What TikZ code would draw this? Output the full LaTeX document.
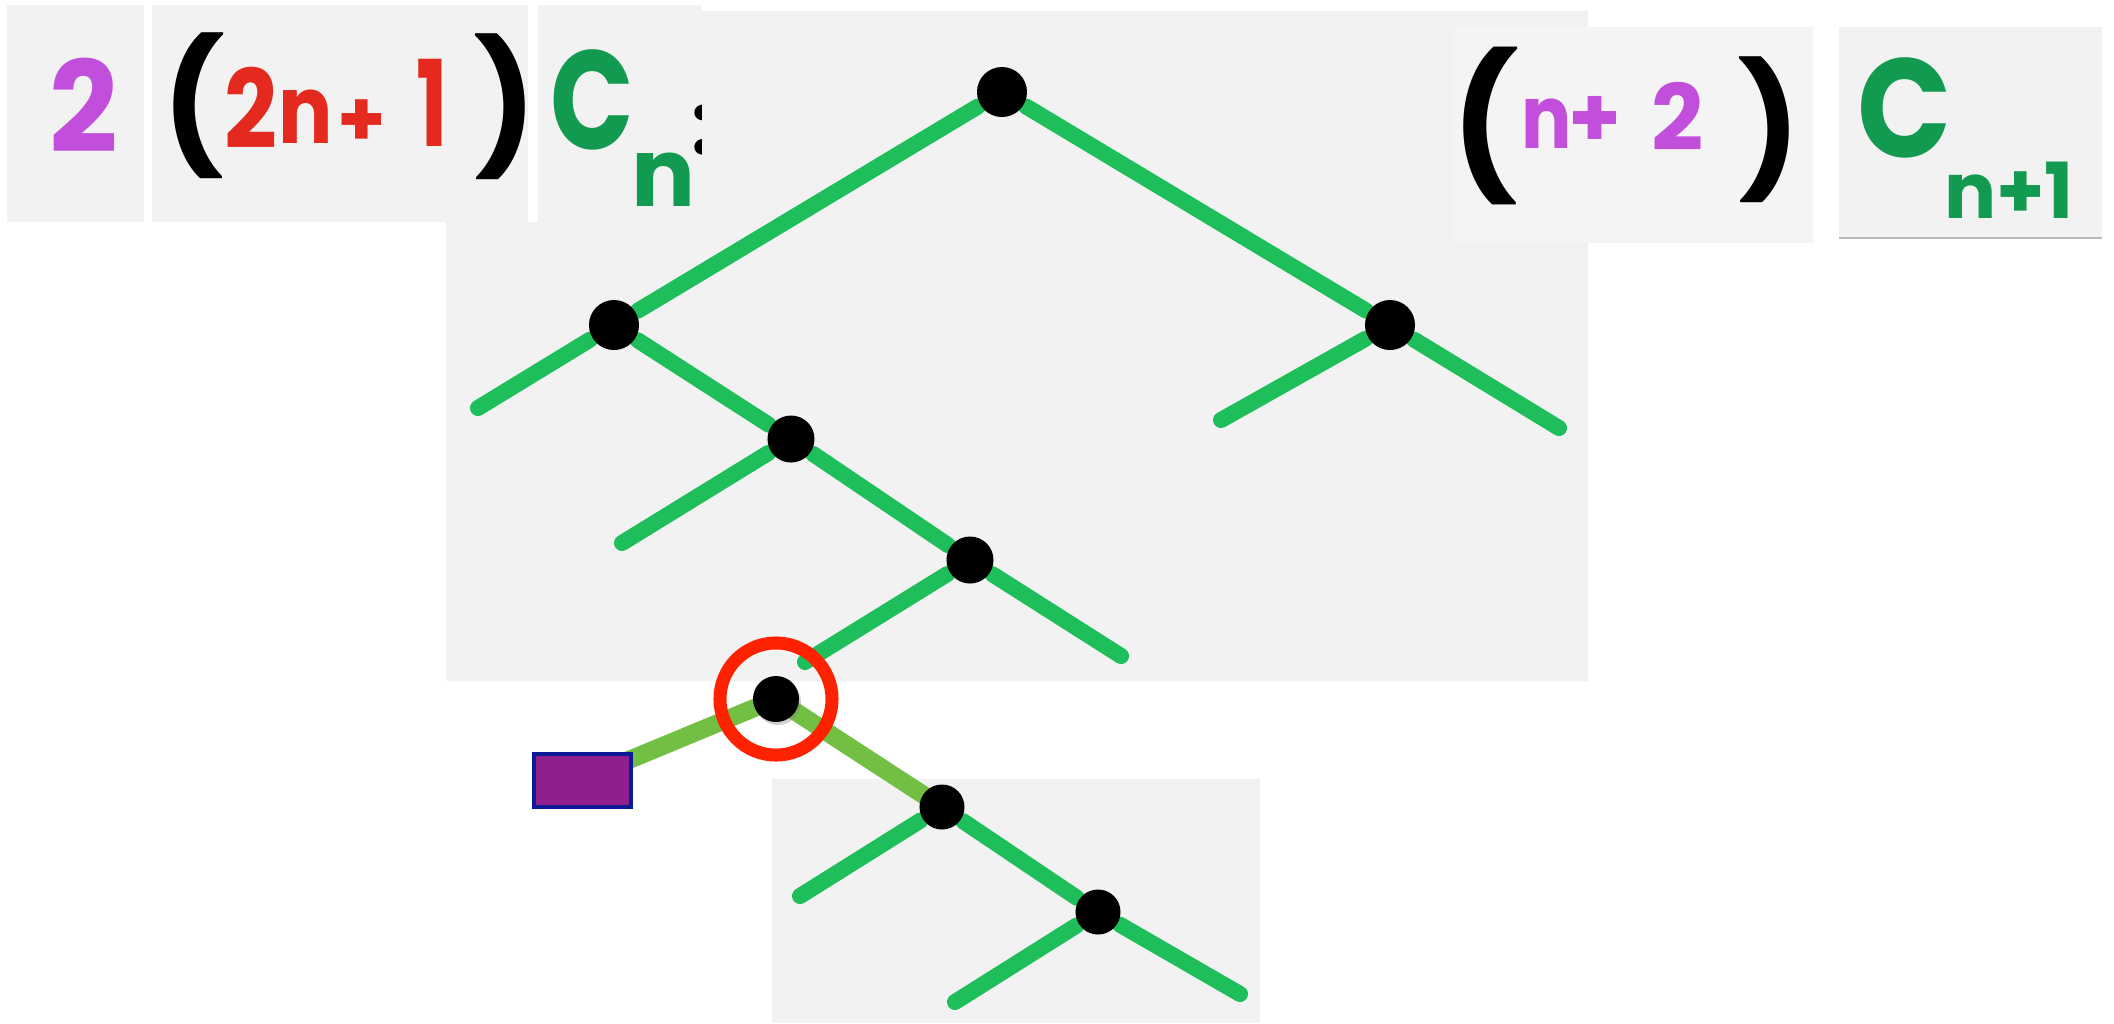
\documentclass[tikz,border=0pt]{standalone}
\usepackage{fontspec}
\newfontfamily\hand{Poppins}
\usetikzlibrary{shadows,calc}
\pgfdeclarelayer{panels}
\pgfdeclarelayer{edges}
\pgfsetlayers{panels,edges,main}
\definecolor{panelgray}{HTML}{F2F2F2}
\definecolor{panelgrayb}{HTML}{F4F4F4}
\definecolor{marker}{HTML}{1EBE5A}
\definecolor{lightleaf}{HTML}{72BF44}
\definecolor{ringred}{HTML}{FF2200}
\definecolor{violetink}{HTML}{C24FDB}
\definecolor{redink}{HTML}{E42A1F}
\definecolor{greenink}{HTML}{129A50}
\definecolor{boxfill}{HTML}{8E1F8D}
\definecolor{boxedge}{HTML}{0A1A96}
\newcommand\gsz[1]{\fontsize{#1pt}{#1pt}\selectfont}
\newcommand\narrow[2]{\scalebox{#1}[1]{#2}}

\begin{document}
\begin{tikzpicture}[x=0.01cm,y=-0.01cm,
  dot/.style={circle,fill=black,inner sep=0,minimum size=0.5cm,outer sep=0.03cm},
  smalldot/.style={dot,minimum size=0.45cm},
  branch/.style={draw=marker,line width=0.16cm,line cap=round},
  newbranch/.style={draw=lightleaf,line width=0.18cm},
  glyph/.style={inner sep=0,outer sep=0,font=\hand\bfseries\gsz{#1}},
  panel/.style={fill=panelgray,draw=none}]

\useasboundingbox (0,0) rectangle (2114,1023);

% paper panels
\begin{pgfonlayer}{panels}
  \fill[white] (0,0) rectangle (2114,1023);
  \fill[panel] (446,11) rectangle (1588,681);
  \fill[panel] (772,779) rectangle (1260,1023);
  \fill[white] (528,5) rectangle (538,222);
  \fill[panel] (7,5) rectangle (144,222);
  \fill[panel] (152,5) rectangle (528,222);
  \fill[panel] (538,5) rectangle (701,222);
  \fill[panelgrayb] (1453,27) rectangle (1813,243);
  \fill[panel] (1839,27) rectangle (2102,237);
  \draw[gray!55,line width=0.02cm] (1839,238) -- (2102,238);
\end{pgfonlayer}

% left side of the identity
\node[glyph=36,text=violetink] (twoa) at (84,105) {\narrow{0.95}{2}};
\node[glyph=37,text=black] (lpa) at (194,106) {(};
\node[glyph=31,text=redink] (twob) at (251,108) {\narrow{0.85}{2}};
\node[glyph=27,text=redink] (na) at (306,117) {\narrow{0.85}{n}};
\node[glyph=22,text=redink] (plusa) at (362,123) {+};
\node[glyph=34,text=redink] (onea) at (432,103) {\narrow{0.7}{1}};
\node[glyph=37,text=black] (rpa) at (506,107) {)};
\node[glyph=40,text=greenink] (ca) at (592,100) {\narrow{0.78}{C}};
\node[glyph=27,text=greenink] (subn) at (663,180) {n};
\begin{scope}
  \clip (538,5) rectangle (701,222);
  \node[glyph=24,text=black] (colon) at (703,130) {:};
\end{scope}

% right side of the identity
\node[glyph=40,text=black] (lpb) at (1485,126) {(};
\node[glyph=25,text=violetink] (nb) at (1547,124) {\narrow{0.85}{n}};
\node[glyph=24,text=violetink] (plusb) at (1595,122) {+};
\node[glyph=26,text=violetink] (twoc) at (1678,116) {2};
\node[glyph=37,text=black] (rpb) at (1770,130) {)};
\node[glyph=40,text=greenink] (cb) at (1905,108) {\narrow{0.88}{C}};
\node[glyph=22,text=greenink] (subnb) at (2009,190) {n+1};

% upper tree
\node[dot] (root) at (1002,92) {};
\node[dot] (L1) at (614,325) {};
\node[dot] (R1) at (1390,325) {};
\node[dot,minimum size=0.47cm] (L2) at (791,439) {};
\node[dot,minimum size=0.47cm] (L3) at (970,560) {};
\coordinate (L1a) at (478,408);
\coordinate (R1a) at (1221,420);
\coordinate (R1b) at (1559,428);
\coordinate (L2a) at (622,543);
\coordinate (L3a) at (805,662);
\coordinate (L3b) at (1121,656);

% highlighted node, the box leaf and the lower tree
\node[dot,minimum size=0.46cm,drop shadow={shadow xshift=0.02cm,shadow yshift=-0.03cm,opacity=0.35}] (cn) at (776,699) {};
\node[circle,draw=ringred,line width=0.13cm,minimum size=1.12cm,inner sep=0] (ring) at (cn) {};
\node[fill=boxfill,draw=boxedge,line width=0.04cm,minimum width=0.97cm,minimum height=0.53cm,inner sep=0] (leafbox) at (582.5,780.5) {};
\node[smalldot] (N1) at (942,807) {};
\node[smalldot] (N2) at (1098,912) {};
\coordinate (N1a) at (800,896);
\coordinate (N2a) at (955,1002);
\coordinate (N2b) at (1240,994);

\begin{pgfonlayer}{edges}
  \draw[branch] (root) -- (L1);
  \draw[branch] (root) -- (R1);
  \draw[branch] (L1) -- (L1a);
  \draw[branch] (L1) -- (L2);
  \draw[branch] (R1) -- (R1a);
  \draw[branch] (R1) -- (R1b);
  \draw[branch] (L2) -- (L2a);
  \draw[branch] (L2) -- (L3);
  \draw[branch] (L3) -- (L3a);
  \draw[branch] (L3) -- (L3b);
  \draw[newbranch] (cn.center) -- ($(leafbox.north east)+(-9,10)$);
  \draw[newbranch] (cn.center) -- (N1.center);
  \draw[branch] (N1) -- (N1a);
  \draw[branch] (N1) -- (N2);
  \draw[branch] (N2) -- (N2a);
  \draw[branch] (N2) -- (N2b);
\end{pgfonlayer}
\end{tikzpicture}
\end{document}
